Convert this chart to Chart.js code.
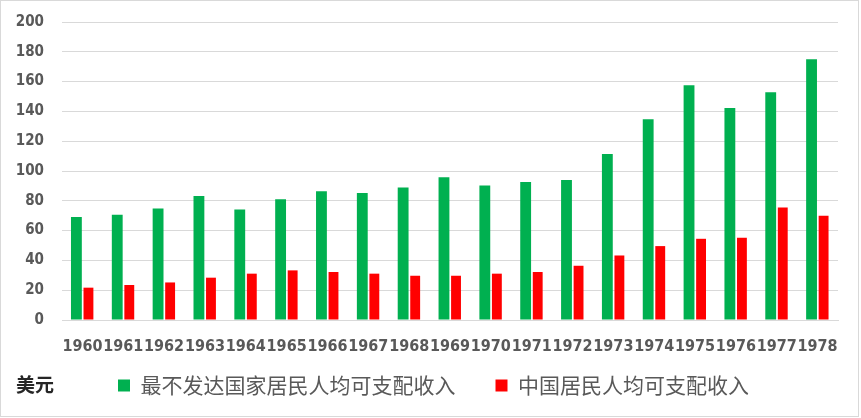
<!DOCTYPE html>
<html>
<head>
<meta charset="utf-8">
<script src="https://cdn.jsdelivr.net/npm/chart.js@4.4.0/dist/chart.umd.min.js"></script>
<style>
  body { margin: 0; background: #fff; }
  #wrap {
    position: absolute; left: 0; top: 0;
    width: 857px; height: 415px;
    border: 1px solid #d9d9d9;
  }
</style>
</head>
<body>
<div id="wrap"><canvas id="income-chart"></canvas></div>
<script>
// 1960-1978 人均可支配收入 (美元)
const years = ["1960", "1961", "1962", "1963", "1964", "1965", "1966", "1967", "1968", "1969",
  "1970", "1971", "1972", "1973", "1974", "1975", "1976", "1977", "1978"];
const ldcIncome = [69.2, 70.6, 74.8, 83.3, 74.1, 81.0, 86.4, 85.3, 88.9, 95.8,
  90.2, 92.7, 94.0, 111.4, 134.8, 157.6, 142.2, 152.9, 175.0];
const chinaIncome = [21.7, 23.5, 25.2, 28.4, 31.1, 33.3, 32.2, 31.1, 29.7, 29.7,
  31.1, 32.2, 36.4, 43.3, 49.6, 54.5, 55.2, 75.5, 69.9];
const yTicks = [0, 20, 40, 60, 80, 100, 120, 140, 160, 180, 200];

const tickFont = "'DejaVu Sans Condensed', 'DejaVu Sans'";

// unidad a la izquierda de la leyenda
const unitLabel = {
  id: "unitLabel",
  afterDraw(chart) {
    const ctx = chart.ctx;
    ctx.save();
    ctx.font = "bold 19px 'Noto Sans CJK SC'";
    ctx.fillStyle = "#262626";
    ctx.textBaseline = "middle";
    ctx.fillText("美元", 15, 384);
    ctx.restore();
  }
};

// sube la leyenda (el padding de 40 la deja muy abajo)
const legendNudge = {
  id: "legendNudge",
  afterLayout(chart) {
    const lg = chart.legend;
    lg.top -= 20;
    lg.bottom -= 20;
    lg.left += 7;
    lg.right += 7;
  }
};

const contenedor = document.querySelector("#income-chart").getContext("2d");

const incomeChart = new Chart(contenedor, {
  type: "bar",
  data: {
    labels: years,
    datasets: [
      {
        label: "最不发达国家居民人均可支配收入",
        data: ldcIncome,
        backgroundColor: "#00B050",
        categoryPercentage: 0.59,
        barPercentage: 0.9,
      },
      {
        label: "中国居民人均可支配收入",
        data: chinaIncome,
        backgroundColor: "#FF0000",
        categoryPercentage: 0.59,
        barPercentage: 0.82,
      },
    ],
  },
  options: {
    responsive: true,
    maintainAspectRatio: false,
    animation: false,
    layout: { padding: { top: 21, right: 20, left: 14, bottom: -10 } },
    scales: {
      x: {
        grid: { display: false, drawTicks: false },
        border: { display: true, color: "#d9d9d9" },
        ticks: {
          autoSkip: false,
          maxRotation: 0,
          padding: 17,
          color: "#595959",
          font: { family: tickFont, size: 16, weight: "bold" },
        },
        afterFit(scale) { scale.height = 35; },
      },
      y: {
        min: 0,
        max: 200,
        afterBuildTicks(scale) { scale.ticks = yTicks.map(v => ({ value: v })); },
        grid: { color: "#d9d9d9", drawTicks: true, tickLength: 14, tickColor: "transparent" },
        border: { display: false },
        ticks: {
          padding: 4,
          color: "#595959",
          font: { family: tickFont, size: 15, weight: "bold" },
        },
        afterFit(scale) { scale.width = 47; },
      },
    },
    plugins: {
      legend: {
        position: "bottom",
        labels: {
          boxWidth: 12,
          boxHeight: 12,
          padding: 40,
          color: "#595959",
          font: { family: "'Noto Sans CJK SC'", size: 21 },
        },
      },
      tooltip: { enabled: false },
    },
  },
  plugins: [unitLabel, legendNudge],
});
</script>
</body>
</html>
